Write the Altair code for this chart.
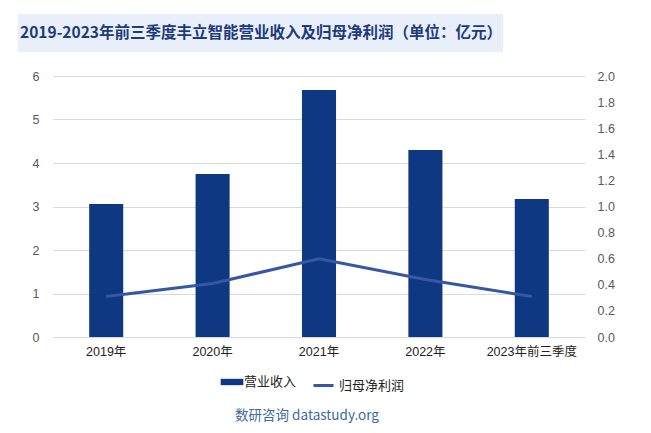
import altair as alt
import pandas as pd

categories = ["2019年", "2020年", "2021年", "2022年", "2023年前三季度"]
revenue = [3.06, 3.75, 5.68, 4.30, 3.17]
net_profit = [0.31, 0.41, 0.60, 0.44, 0.31]
left_ticks = [0, 1, 2, 3, 4, 5, 6]
right_ticks = [0.0, 0.2, 0.4, 0.6, 0.8, 1.0, 1.2, 1.4, 1.6, 1.8, 2.0]
title_text = "2019-2023年前三季度丰立智能营业收入及归母净利润（单位：亿元）"
source_text = "数研咨询 datastudy.org"

df = pd.DataFrame({
    "cat": categories,
    "rev": revenue,
    "np": net_profit,
    "s1": ["营业收入"] * 5,
    "s2": ["归母净利润"] * 5,
})

FONT = "Noto Sans CJK SC"
AXFONT = "Liberation Sans, Noto Sans CJK SC"
BAR_C = "#0F3882"
LINE_C = "#3557A6"

x_enc = alt.X("cat:N", sort=categories, title=None,
              scale=alt.Scale(paddingInner=0.68, paddingOuter=0.34),
              axis=alt.Axis(labelAngle=0, labelColor="#222222", labelFontSize=12.5,
                            labelFont=AXFONT, domain=False, ticks=False, labelPadding=8))

base = alt.Chart(df)

bars = base.mark_bar().encode(
    x=x_enc,
    y=alt.Y("rev:Q", title=None, scale=alt.Scale(domain=[0, 6]),
            axis=alt.Axis(values=left_ticks, format="d", labelColor="#595959", labelFontSize=12.5,
                          labelFont=AXFONT, domain=False, ticks=False, labelPadding=14,
                          gridColor="#D9D9D9", grid=True)),
    color=alt.Color("s1:N", scale=alt.Scale(range=[BAR_C]),
                    legend=alt.Legend(title=None, orient="none", legendX=171, legendY=298,
                                      symbolType="M-1.6,-0.45L1.6,-0.45L1.6,0.45L-1.6,0.45Z",
                                      symbolSize=200, labelFont=AXFONT, labelFontSize=13,
                                      labelColor="#222222", symbolOpacity=1)),
)

line = base.mark_line(strokeWidth=3).encode(
    x=x_enc,
    y=alt.Y("np:Q", title=None, scale=alt.Scale(domain=[0, 2]),
            axis=alt.Axis(values=right_ticks, format=".1f", orient="right", labelColor="#595959",
                          labelFontSize=12.5, labelFont=AXFONT, domain=False, ticks=False,
                          labelPadding=12, grid=False)),
    stroke=alt.Stroke("s2:N", scale=alt.Scale(range=[LINE_C]),
                      legend=alt.Legend(title=None, orient="none", legendX=259, legendY=298,
                                        symbolType="stroke", symbolStrokeWidth=3, symbolSize=400,
                                        labelFont=AXFONT, labelFontSize=13, labelColor="#222222")),
)

tdf = pd.DataFrame({"t": [title_text]})
title_bg = alt.Chart(tdf).mark_rect(color="#E8EFFA").encode(
    x=alt.value(-35), x2=alt.value(450), y=alt.value(-62), y2=alt.value(-24))
title = alt.Chart(tdf).mark_text(font=FONT, fontSize=15.5, fontWeight="bold", color="#1E3A7B",
                                 align="center", baseline="middle").encode(
    x=alt.value(208), y=alt.value(-43), text="t:N")

sdf = pd.DataFrame({"t": [source_text]})
source = alt.Chart(sdf).mark_text(font=FONT, fontSize=13.5, color="#3E6A9C",
                                  align="center", baseline="middle").encode(
    x=alt.value(254), y=alt.value(340), text="t:N")

chart = alt.layer(title_bg, title, bars, line, source).resolve_scale(
    y="independent", color="independent", stroke="independent"
).properties(
    width=532, height=261,
    autosize=alt.AutoSizeParams(type="none"),
    padding={"left": 45, "top": 68, "right": 58, "bottom": 88},
    background="white",
).configure_view(stroke=None)

chart.save("out.html", embed_options={"renderer": "svg", "actions": False})
